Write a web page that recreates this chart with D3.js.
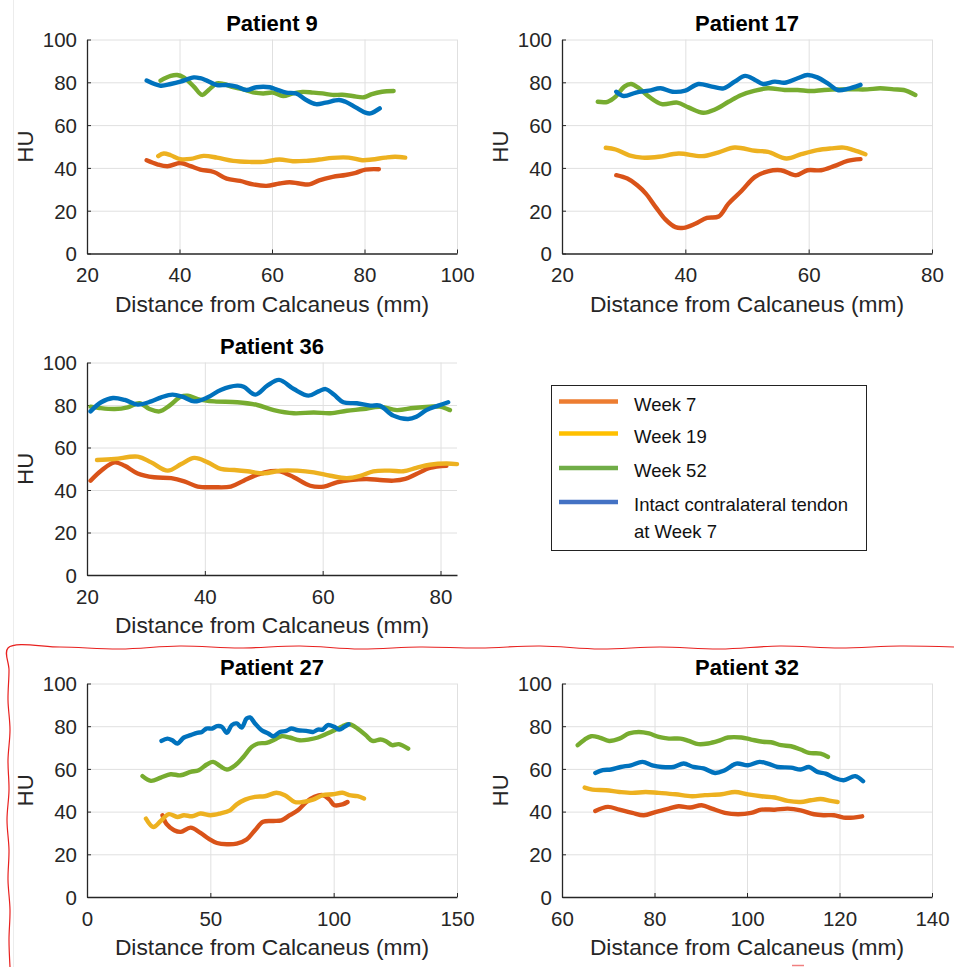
<!DOCTYPE html>
<html>
<head>
<meta charset="utf-8">
<script src="https://cdn.jsdelivr.net/npm/d3@7"></script>
<style>
  html, body { margin: 0; padding: 0; background: #fff; }
  svg { display: block; font-family: "Liberation Sans", Arial, sans-serif; }
</style>
</head>
<body>
<svg id="chart" width="954" height="967"></svg>
<script>
// ---------------- DATA ----------------
const seriesNames = ["Week 7", "Week 19", "Week 52", "Intact contralateral tendon at Week 7"];
const legendLines = [["Week 7"], ["Week 19"], ["Week 52"], ["Intact contralateral tendon", "at Week 7"]];
const yTicks = [0, 20, 40, 60, 80, 100];

// Patient 9
const p9Ticks = [20, 40, 60, 80, 100];
const p9Week7 = [[32.9,43.6],[35.2,41.7],[37.4,40.8],[40.2,42.3],[42.4,40.8],[44.5,39.2],[47.4,38.1],[50.2,35],[53.1,33.9],[55.9,32.3],[58.8,31.6],[61.6,32.7],[63.8,33.3],[65.9,32.7],[68.1,32.3],[70.2,34.2],[73.1,35.8],[75.9,36.7],[78.1,37.7],[80.2,39.2],[83.1,39.4]];
const p9Week19 = [[35.4,45.5],[36.6,46.7],[38.1,45.9],[40.2,44.1],[42.4,44.2],[45.2,45.6],[48.1,44.8],[51.6,43.3],[55.2,42.8],[58.1,42.8],[61.6,43.9],[64.5,43.1],[67.4,43.3],[70.2,43.9],[73.1,44.7],[76.6,44.8],[79.5,43.6],[81.6,43.9],[84.5,44.8],[86.6,45.2],[88.8,44.8]];
const p9Week52 = [[35.9,80.8],[38.1,83],[39.5,83.4],[40.9,82.3],[43.1,78],[44.9,74.1],[46.3,76.4],[48.1,79.5],[49.5,79.2],[51.6,77.7],[53.8,76.7],[55.9,75.3],[58.1,74.8],[60.2,75.2],[62.4,73.6],[64.5,74.8],[66.6,75.5],[68.8,75.2],[70.9,74.8],[73.1,74.1],[75.2,74.2],[77.4,73.6],[79.9,73],[81.6,74.5],[83.8,75.6],[86.3,75.9]];
const p9Intact = [[32.9,80.8],[35.9,78.4],[38.1,79.2],[40.2,80.3],[43.1,82.3],[44.5,81.9],[45.9,80.8],[48.1,78.75],[50.2,78.75],[52.4,78],[54.5,76.4],[56.6,77.7],[59.5,77.7],[60.9,76.7],[63.1,75.2],[65.2,74.8],[67.4,71.7],[69.5,69.8],[71.6,70.5],[74.5,71.7],[75.9,70.9],[78.1,68.3],[80.2,65.8],[81.3,65.5],[83.3,67.8]];

// Patient 17
const p17Ticks = [20, 40, 60, 80];
const p17Week7 = [[28.8,36.6],[30.6,35],[32.2,31.9],[33.6,28],[35.2,21.7],[36.8,15.8],[38.4,12.3],[39.7,12],[41.6,13.9],[43.5,16.6],[45.4,17.3],[47.0,23.3],[49.1,29.2],[51.3,35.8],[53.4,38.4],[55.5,38.9],[58.0,36.6],[59.8,38.9],[62.0,38.9],[64.1,40.8],[66.3,43.3],[68.4,44.1]];
const p17Week19 = [[27.1,49.4],[28.7,48.6],[30.9,45.9],[33.0,44.8],[35.7,45.2],[38.9,46.7],[42.7,45.5],[45.4,47.3],[48.0,49.5],[51.3,48],[53.4,47.5],[56.4,44.4],[58.8,46.4],[61.4,48.3],[63.6,49.1],[65.7,49.5],[67.3,48.3],[69.2,46.4]];
const p17Week52 = [[25.8,70.9],[27.4,70.9],[28.7,73.3],[30.1,78],[31.2,79.2],[32.5,77.2],[34.1,73.3],[36.2,69.8],[38.7,70.5],[40.5,68.3],[42.9,65.8],[44.8,67.3],[47.0,70.9],[49.1,74.1],[51.3,76.1],[53.4,77.2],[56.1,76.4],[58.2,76.4],[60.4,75.9],[62.5,76.4],[65.2,76.7],[67.3,76.7],[69.5,76.7],[71.6,77.2],[73.8,76.7],[75.4,76.4],[77.3,74.1]];
const p17Intact = [[28.8,75.6],[30.0,73.6],[32.0,75.2],[34.1,76.1],[36.0,77.2],[37.9,75.6],[40,76.1],[42.1,79.2],[44.3,78],[46.2,77.2],[48.0,80.3],[49.7,83],[51.3,81.1],[52.6,79.2],[54.5,80.3],[56.1,79.8],[58.2,81.9],[59.8,83.4],[61.4,82.3],[63.1,79.5],[64.7,76.4],[66.3,76.9],[68.4,78.8]];

// Patient 36
const p36Ticks = [20, 40, 60, 80];
const p36Week7 = [[20.6,44.4],[22.4,49.1],[24.7,53],[26.4,51.4],[28.6,47.8],[31.4,46],[34.3,45.6],[36.5,44.1],[38.8,41.6],[41.6,41.3],[44.4,41.6],[46.6,44.4],[48.9,47.2],[51.2,48.8],[52.8,48.8],[55.1,46],[57.9,42.0],[60.2,41.6],[62.4,43.6],[64.7,44.7],[67.5,45.2],[69.7,44.7],[72.0,44.4],[74.0,45.2],[75.9,47.5],[78.2,50.4],[81.0,51.4]];
const p36Week19 = [[21.7,54.1],[24.7,54.6],[28.6,55.7],[30.9,53],[33.7,49.1],[36.0,52.2],[38.2,55.1],[40.5,53],[42.7,49.9],[45.0,49.4],[47.2,48.8],[50.0,47.8],[52.8,49.1],[55.7,49.1],[58.5,48.3],[61.3,46.7],[64.1,45.6],[66.4,46.7],[68.6,48.8],[71.4,49.1],[73.7,48.8],[75.9,50.4],[78.2,51.9],[81.0,52.5],[82.8,52.2]];
const p36Week52 = [[20.6,79.2],[22.1,78.6],[24.7,78.1],[26.9,78.9],[28.9,80.8],[30.6,78.1],[32.3,77],[34.0,79.7],[35.9,83.9],[37.1,84.4],[38.8,82.8],[41.6,81.7],[45.5,81.3],[48.9,80],[51.7,77.6],[55.1,76.1],[58.5,76.5],[61.3,76.1],[64.1,77.3],[66.9,78.1],[69.7,79.2],[72.6,77.6],[75.4,78.6],[78.2,79.2],[79.9,79.2],[81.6,77.6]];
const p36Intact = [[20.6,77],[22.4,81.3],[24.4,83.3],[26.4,82.4],[28.6,80.2],[30.9,81.7],[32.6,83.6],[34.5,84.9],[36.2,83.9],[38.2,81.7],[40.5,83.6],[42.7,87.1],[45.5,89.1],[46.6,88.6],[48.6,84.9],[50.6,89.1],[52.6,91.8],[55.1,87.5],[57.6,84.4],[59.3,86.4],[60.5,87.5],[61.9,84.9],[63.5,81.3],[65.8,80.8],[68.1,79.7],[69.7,79.7],[72.0,75],[74.5,73.4],[75.9,74.5],[77.6,77.6],[79.6,79.7],[81.3,81.3]];

// Patient 27
const p27Ticks = [0, 50, 100, 150];
const p27Week7 = [[30.6,38.3],[32.3,34.1],[35.3,31.3],[38.0,30.5],[42.0,32.5],[46.0,30],[49.3,27.3],[52.7,25.3],[56.7,24.7],[60.7,25],[64.7,26.9],[68.1,31.3],[71.4,35.2],[75.5,35.6],[78.8,35.9],[82.2,38.3],[85.5,40.6],[88.9,44.5],[92.2,46.9],[95.6,47.7],[98.3,45.6],[100.3,43],[103.6,43.4],[105.6,44.5]];
const p27Week19 = [[23.9,36.7],[26.9,32.8],[29.9,35.6],[33.2,38.8],[36.6,37.5],[39.3,38.3],[42.6,37.8],[46.0,39.1],[50.0,38.3],[54.0,39.1],[58.0,40.6],[60.7,43.4],[64.1,45.6],[68.1,46.9],[72.1,47.2],[76.8,48.8],[80.2,47.7],[84.2,44.5],[87.5,44.5],[91.6,45.6],[95.6,47.7],[99.6,48.1],[103.6,48.8],[106.3,47.7],[109.7,47.2],[112.3,46.1]];
const p27Week52 = [[22.5,56.6],[25.9,54.4],[29.9,55.9],[33.9,57.5],[37.9,57],[42.0,58.6],[45.3,59.4],[48.7,62.2],[51.1,63.3],[54.0,61.3],[56.7,59.7],[60.1,61.7],[63.4,65.6],[66.8,70.3],[69.4,71.9],[72.8,72.2],[76.1,73.8],[78.8,75.3],[82.2,74.7],[86.2,73.4],[90.2,73.8],[93.6,74.7],[96.9,76.3],[100.3,78.1],[103.6,80],[106.3,80.9],[109.7,78.9],[113.0,75.8],[115.7,73.1],[119.0,73.8],[121.0,73.1],[123.7,71.1],[126.4,71.6],[130.2,69.5]];
const p27Intact = [[30.2,73.1],[32.6,74.2],[34.6,73.4],[36.6,71.9],[39.3,74.7],[42.0,75.8],[44.6,76.9],[46.6,77.3],[48.4,78.9],[50.7,78.9],[52.7,80],[54.7,79.7],[56.7,76.9],[58.7,80.5],[60.7,81.3],[62.7,79.4],[64.7,83.6],[66.1,84.1],[68.1,81.3],[70.8,78.1],[73.5,76.6],[75.5,75.3],[78.2,77.3],[80.8,77.8],[82.8,78.9],[85.5,78.1],[88.9,77.8],[91.6,77.3],[93.6,78.4],[95.6,78.4],[97.6,80.5],[100.3,79.7],[102.3,78.4],[104.3,79.7],[106.0,80.9]];

// Patient 32
const p32Ticks = [60, 80, 100, 120, 140];
const p32Week7 = [[67.2,40.3],[69.9,42.2],[72.4,40.9],[75.2,39.4],[77.7,38.3],[80.2,39.8],[83.1,41.4],[85.2,42.5],[87.7,41.9],[90.2,43],[92.4,41.4],[95.2,39.4],[98.1,38.75],[100.9,39.4],[103.1,40.9],[106.0,40.9],[108.8,41.4],[111.6,40.6],[114.5,38.75],[116.6,38.3],[118.8,38.3],[120.9,37.2],[123.0,37.2],[124.9,37.8]];
const p32Week19 = [[64.9,51.25],[66.6,50.3],[69.5,50],[72.4,49.2],[75.2,48.75],[78.1,49.2],[80.9,48.75],[84.5,48.1],[88.1,47.2],[90.9,47.7],[94.5,48.1],[97.4,49.2],[100.2,48.1],[103.1,47.2],[106.0,46.6],[108.8,45],[111.6,44.5],[113.8,45.3],[115.9,45.9],[118.1,45],[119.6,44.5]];
const p32Week52 = [[63.4,71.1],[64.9,73.75],[66.3,75.3],[68.1,74.7],[70.2,73.1],[72.4,74.2],[74.5,76.6],[76.6,77.3],[78.8,76.6],[80.9,75],[83.1,74.2],[85.6,74.2],[87.4,73.1],[89.5,71.6],[91.6,71.9],[93.8,73.1],[95.9,74.7],[98.8,74.7],[100.9,73.75],[103.4,72.7],[105.2,72.5],[107.4,71.1],[109.5,70.6],[111.6,69.1],[113.4,67.5],[115.9,67.2],[117.5,65.6]];
const p32Intact = [[67.2,58.1],[68.8,59.4],[70.6,59.7],[72.7,60.9],[74.9,61.7],[77.4,63.3],[79.5,61.7],[81.6,60.9],[84.1,60.9],[86.3,62.5],[88.4,60.9],[90.6,60.2],[93.1,58.1],[95.2,59.4],[97.7,62.5],[100.2,61.7],[102.7,63.3],[104.5,62.5],[106.6,60.9],[109.5,60.6],[111.6,59.7],[113.4,60.9],[115.2,58.6],[117.0,57.8],[118.8,55.9],[120.9,54.7],[123.4,56.6],[125.1,54.2]];

// ---------------- STYLE / LAYOUT ----------------
const lineColors = ["#D95319", "#EDB120", "#77AC30", "#0072BD"];
const legendColors = ["#ED7D31", "#FFC000", "#70AD47", "#4472C4"];
const axisColor = "#262626";
const gridColor = "#e0e0e0";

const panels = [
  { title: "Patient 9",  box: [87, 39.5, 457, 253.5], xDomain: [20, 100], xTicks: p9Ticks,  series: [p9Week7, p9Week19, p9Week52, p9Intact] },
  { title: "Patient 17", box: [562, 39.5, 932, 253.5], xDomain: [20, 80], xTicks: p17Ticks, series: [p17Week7, p17Week19, p17Week52, p17Intact] },
  { title: "Patient 36", box: [87, 362.5, 457, 575], xDomain: [20, 82.8], xTicks: p36Ticks, series: [p36Week7, p36Week19, p36Week52, p36Intact] },
  { title: "Patient 27", box: [87, 683.5, 457, 897], xDomain: [0, 150], xTicks: p27Ticks, series: [p27Week7, p27Week19, p27Week52, p27Intact] },
  { title: "Patient 32", box: [562, 683.5, 932, 897], xDomain: [60, 140], xTicks: p32Ticks, series: [p32Week7, p32Week19, p32Week52, p32Intact] }
];

const svg = d3.select("#chart");

// faint page edge line
svg.append("line").attr("x1", 13.5).attr("x2", 13.5).attr("y1", 0).attr("y2", 967)
  .attr("stroke", "#ececec").attr("stroke-width", 1);

panels.forEach(p => {
  const [x0, y0, x1, y1] = p.box;
  const x = d3.scaleLinear().domain(p.xDomain).range([x0, x1]);
  const y = d3.scaleLinear().domain([0, 100]).range([y1, y0]);
  const g = svg.append("g");

  // grid
  g.append("g").selectAll("line").data(p.xTicks.filter(t => t !== p.xDomain[0])).join("line")
    .attr("x1", d => x(d) + 0.5).attr("x2", d => x(d) + 0.5).attr("y1", y0).attr("y2", y1)
    .attr("stroke", gridColor).attr("stroke-width", 1);
  g.append("g").selectAll("line").data(yTicks.filter(t => t !== 0)).join("line")
    .attr("x1", x0).attr("x2", x1).attr("y1", d => y(d) + 0.5).attr("y2", d => y(d) + 0.5)
    .attr("stroke", gridColor).attr("stroke-width", 1);

  // axes
  const xa = g.append("g").attr("transform", `translate(0,${y1})`)
    .call(d3.axisBottom(x).tickValues(p.xTicks).tickSizeInner(-4).tickSizeOuter(0).tickPadding(14).tickFormat(d3.format("d")));
  const ya = g.append("g").attr("transform", `translate(${x0},0)`)
    .call(d3.axisLeft(y).tickValues(yTicks).tickSizeInner(-4).tickSizeOuter(0).tickPadding(10).tickFormat(d3.format("d")));
  [xa, ya].forEach(a => {
    a.select(".domain").attr("stroke", axisColor).attr("stroke-width", 1.3);
    a.selectAll(".tick line").attr("stroke", axisColor).attr("stroke-width", 1);
    a.selectAll(".tick text").attr("fill", axisColor).attr("font-size", 20.5)
      .attr("font-family", "'Liberation Sans', Arial, sans-serif");
  });
  ya.selectAll(".tick text").attr("dy", "0.36em");

  // lines
  const line = d3.line().x(d => x(d[0])).y(d => y(d[1])).curve(d3.curveCatmullRom.alpha(0.5));
  p.series.forEach((s, i) => {
    g.append("path").datum(s).attr("d", line)
      .attr("fill", "none").attr("stroke", lineColors[i]).attr("stroke-width", 4.4)
      .attr("stroke-linecap", "round").attr("stroke-linejoin", "round");
  });

  // title
  g.append("text").attr("x", (x0 + x1) / 2).attr("y", y0 - 8.7)
    .attr("text-anchor", "middle").attr("font-size", 22).attr("font-weight", "bold")
    .attr("fill", "#000").text(p.title);
  // x label
  g.append("text").attr("x", (x0 + x1) / 2).attr("y", y1 + 58.4)
    .attr("text-anchor", "middle").attr("font-size", 22.8).attr("fill", axisColor)
    .text("Distance from Calcaneus (mm)");
  // y label
  g.append("text").attr("transform", `translate(${x0 - 53.7},${(y0 + y1) / 2}) rotate(-90)`)
    .attr("text-anchor", "middle").attr("font-size", 22).attr("fill", axisColor).text("HU");
});

// legend
const lg = svg.append("g");
lg.append("rect").attr("x", 551.5).attr("y", 385.5).attr("width", 315).attr("height", 165)
  .attr("fill", "#fff").attr("stroke", "#222").attr("stroke-width", 1);
const legendY = [401.5, 433.5, 468, 502];
legendLines.forEach((lines, i) => {
  lg.append("line").attr("x1", 559).attr("x2", 618).attr("y1", legendY[i]).attr("y2", legendY[i])
    .attr("stroke", legendColors[i]).attr("stroke-width", 4.5);
  lines.forEach((t, j) => {
    lg.append("text").attr("x", 634).attr("y", legendY[i] + 9 + j * 26.5)
      .attr("font-size", 18.5).attr("fill", "#111").text(t);
  });
});

// hand-drawn red annotation
const annotationPts = [[10,967],[9,940],[10,910],[8,880],[9,850],[7,820],[9,790],[8,760],[10,730],[8,700],[9,670],[8,648],
  [60,647],[120,649],[180,646],[240,648],[300,646],[360,649],[420,647],[480,648],[540,646],[600,649],[660,647],[720,649],[780,646],[840,648],[900,646],[954,647]];
svg.append("path").datum(annotationPts)
  .attr("d", d3.line().curve(d3.curveCatmullRom))
  .attr("fill", "none").attr("stroke", "#e8211f").attr("stroke-width", 1.2);
svg.append("line").attr("x1", 792).attr("x2", 804).attr("y1", 965.5).attr("y2", 965.5)
  .attr("stroke", "#f08080").attr("stroke-width", 1.5);
</script>
</body>
</html>
